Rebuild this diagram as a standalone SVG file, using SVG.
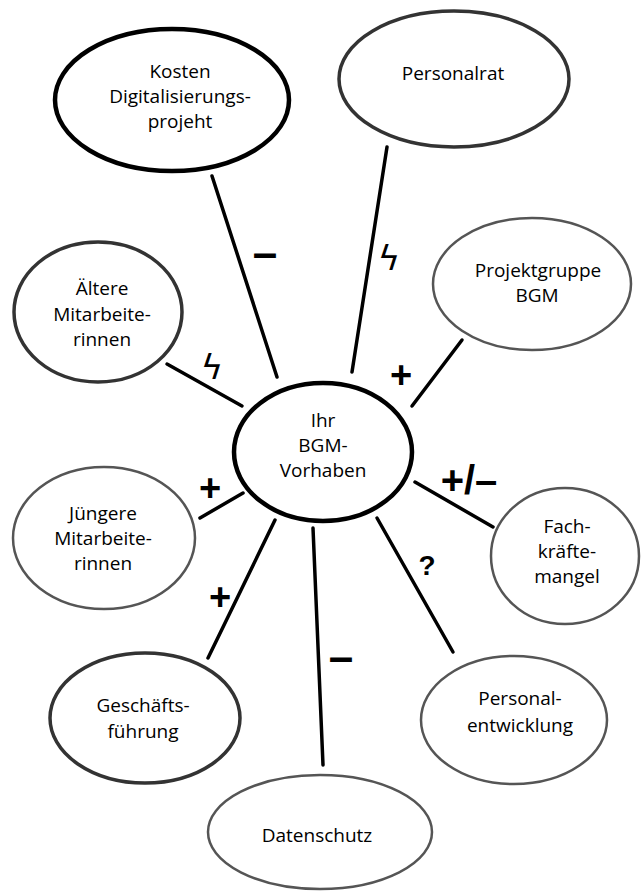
<svg xmlns="http://www.w3.org/2000/svg" width="641" height="891" viewBox="0 0 641 891">
<style>
.n{fill:#fff}
.k{stroke:#000;stroke-width:4.5}
.d{stroke:#333;stroke-width:3.5}
.g{stroke:#555;stroke-width:2.5}
.t{font-family:"Open Sans","Liberation Sans",sans-serif;font-size:19px;fill:#000;text-anchor:middle}
.c line{stroke:#000;stroke-width:3.5;stroke-linecap:round}
.s{font-family:"Liberation Sans",Arial,sans-serif;font-weight:bold;fill:#000;text-anchor:middle}
.z{font-family:"DejaVu Sans",sans-serif;font-size:34px;fill:#000;text-anchor:middle}
</style>
<rect width="641" height="891" fill="#fff"/>
<g class="c" id="connectors">
<line x1="212" y1="176" x2="277" y2="377"/>
<line x1="387" y1="147" x2="352" y2="372"/>
<line x1="462" y1="340" x2="412" y2="406"/>
<line x1="167" y1="364" x2="242" y2="406"/>
<line x1="200" y1="518" x2="243" y2="493"/>
<line x1="275" y1="520" x2="208" y2="658"/>
<line x1="313" y1="528" x2="323" y2="765"/>
<line x1="377" y1="518" x2="453" y2="652"/>
<line x1="415" y1="482" x2="493" y2="527"/>
<text class="s" x="265" y="268" font-size="44">–</text>
<text class="z" x="389" y="270">ϟ</text>
<text class="s" x="401" y="388" font-size="38">+</text>
<text class="z" x="212" y="379">ϟ</text>
<text class="s" x="210" y="501" font-size="38">+</text>
<text class="s" x="220" y="610" font-size="38">+</text>
<text class="s" x="341" y="672" font-size="44">–</text>
<text class="s" x="427" y="575" font-size="28">?</text>
<text class="s" x="469" y="494" font-size="40">+/–</text>
</g>
<g id="kosten"><ellipse class="n k" cx="172" cy="100" rx="117" ry="71"/>
<text class="t"><tspan x="180" y="78">Kosten</tspan><tspan x="180" y="103">Digitalisierungs-</tspan><tspan x="180" y="128">projeht</tspan></text></g>
<g id="personalrat"><ellipse class="n d" cx="454" cy="79" rx="115" ry="68"/>
<text class="t" x="453" y="80">Personalrat</text></g>
<g id="projektgruppe"><ellipse class="n g" cx="532" cy="284" rx="99" ry="66"/>
<text class="t"><tspan x="538" y="277">Projektgruppe</tspan><tspan x="537" y="302">BGM</tspan></text></g>
<g id="aeltere"><ellipse class="n d" cx="98" cy="312" rx="84" ry="70"/>
<text class="t"><tspan x="102" y="295">Ältere</tspan><tspan x="102" y="321">Mitarbeite-</tspan><tspan x="102" y="346">rinnen</tspan></text></g>
<g id="zentrum"><ellipse class="n k" cx="323" cy="452" rx="89" ry="69"/>
<text class="t"><tspan x="323" y="427">Ihr</tspan><tspan x="323" y="452">BGM-</tspan><tspan x="323" y="477">Vorhaben</tspan></text></g>
<g id="juengere"><ellipse class="n g" cx="104" cy="538" rx="91" ry="71"/>
<text class="t"><tspan x="103" y="520">Jüngere</tspan><tspan x="103" y="545">Mitarbeite-</tspan><tspan x="103" y="570">rinnen</tspan></text></g>
<g id="fachkraefte"><ellipse class="n g" cx="565" cy="556" rx="74" ry="68"/>
<text class="t"><tspan x="567" y="533">Fach-</tspan><tspan x="567" y="558">kräfte-</tspan><tspan x="567" y="583">mangel</tspan></text></g>
<g id="geschaeftsfuehrung"><ellipse class="n d" cx="145" cy="718" rx="95" ry="65"/>
<text class="t"><tspan x="143" y="712">Geschäfts-</tspan><tspan x="143" y="738">führung</tspan></text></g>
<g id="personalentwicklung"><ellipse class="n g" cx="514" cy="720" rx="93" ry="64"/>
<text class="t"><tspan x="520" y="705">Personal-</tspan><tspan x="520" y="732">entwicklung</tspan></text></g>
<g id="datenschutz"><ellipse class="n g" cx="320" cy="832" rx="112" ry="57"/>
<text class="t" x="317" y="842">Datenschutz</text></g>
</svg>
